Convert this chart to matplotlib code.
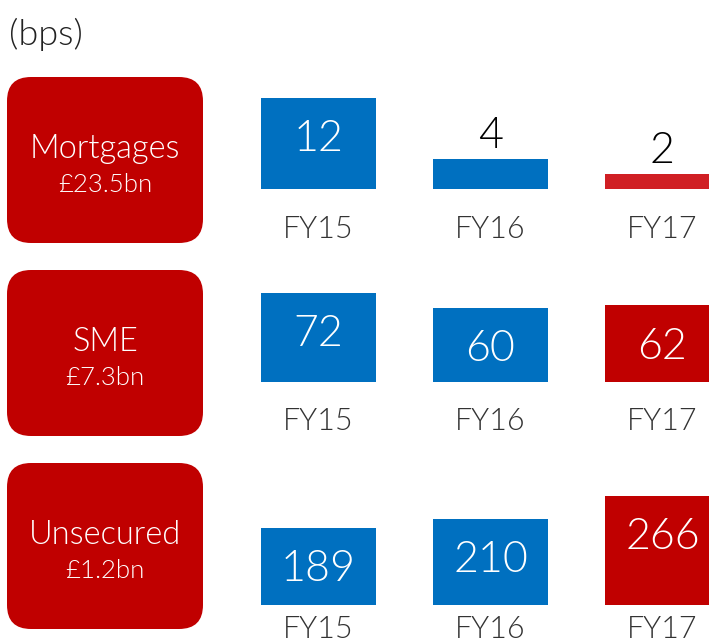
import matplotlib.pyplot as plt
from matplotlib.patches import FancyBboxPatch

# ============================================================
# DATA
# ============================================================

YEARS = ["FY15", "FY16", "FY17"]

SEGMENTS = ["Mortgages", "SME", "Unsecured"]
BALANCES = ["£23.5bn", "£7.3bn", "£1.2bn"]

MORTGAGES_BPS = [12, 4, 2]
SME_BPS = [72, 60, 62]
UNSECURED_BPS = [189, 210, 266]

# ============================================================
# STYLE / LAYOUT (pixels in a 709x640 canvas)
# ============================================================

W, H = 709, 640
BLUE = "#0070C0"
RED = "#C00000"
BRIGHT_RED = "#D01F24"
FONT = "Lato"
WEIGHT = 300
PT = 0.72  # points per pixel at dpi 100

plt.rcParams['font.family'] = [FONT, 'DejaVu Sans']

# per row: values, px per bps, bar baseline (px from top), box top, label offset (px)
ROWS = [
    (MORTGAGES_BPS, 7.6, 189, 77, 40, [BLUE, BLUE, BRIGHT_RED]),
    (SME_BPS, 1.24, 382, 270, 39, [BLUE, BLUE, RED]),
    (UNSECURED_BPS, 0.41, 605, 463, 25, [BLUE, BLUE, RED]),
]

BOX_H = 166
PX_PER_CAT = 172
FIRST_CENTER = 318.5
AX_LEFT, AX_RIGHT = 232, 709
AX_HEIGHT = 130
BAR_W = 115 / PX_PER_CAT

fig = plt.figure(figsize=(W / 100, H / 100), dpi=100)

# overlay for labels and boxes, in pixel coordinates
bg = fig.add_axes([0, 0, 1, 1])
bg.set_xlim(0, W)
bg.set_ylim(H, 0)
bg.axis('off')

bg.text(9, 34, "(bps)", fontsize=26, fontweight=WEIGHT, color='#222222',
        ha='left', va='center')

for (vals, scale, base, box_top, lab_off, colors), seg, bal in zip(ROWS, SEGMENTS, BALANCES):
    box = FancyBboxPatch((7, box_top), 196, BOX_H,
                         boxstyle="round,pad=0,rounding_size=24",
                         facecolor=RED, edgecolor='none')
    bg.add_patch(box)
    cy = box_top + BOX_H / 2
    bg.text(105, cy - 11, seg, fontsize=23.5, color='white', fontweight=WEIGHT,
            ha='center', va='center')
    bg.text(105, cy + 25, bal, fontsize=18.5, color='white', fontweight=WEIGHT,
            ha='center', va='center')

    # bar axes: bottom edge on the baseline
    ax = fig.add_axes([AX_LEFT / W, (H - base) / H,
                       (AX_RIGHT - AX_LEFT) / W, AX_HEIGHT / H])
    x0 = -(FIRST_CENTER - AX_LEFT) / PX_PER_CAT
    x1 = 2 + (AX_RIGHT - (FIRST_CENTER + 2 * PX_PER_CAT)) / PX_PER_CAT
    ax.set_xlim(x0, x1)
    ax.set_ylim(0, AX_HEIGHT / scale)
    ax.axis('off')

    xs = range(len(YEARS))
    ax.bar(xs, vals, BAR_W, color=colors, clip_on=False)

    for i, v in zip(xs, vals):
        if v * scale > 60:
            ax.annotate(str(v), xy=(i, v), xytext=(0, -42 * PT),
                        textcoords='offset points', ha='center', va='center',
                        fontsize=31, color='white', fontweight=WEIGHT)
        else:
            ax.annotate(str(v), xy=(i, v), xytext=(0, 22 * PT),
                        textcoords='offset points', ha='center', va='center',
                        fontsize=31, color='black', fontweight=WEIGHT)
        ax.annotate(YEARS[i], xy=(i, 0), xytext=(0, -lab_off * PT),
                    textcoords='offset points', ha='center', va='center',
                    fontsize=22, color='#333333', fontweight=WEIGHT,
                    annotation_clip=False)

fig.savefig("out.png", dpi=100)
